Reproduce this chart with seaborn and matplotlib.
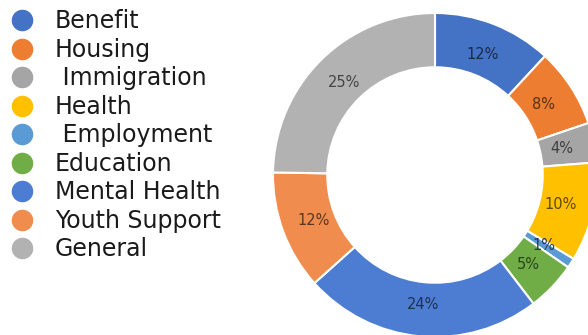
import matplotlib
matplotlib.use("Agg")
import matplotlib.pyplot as plt
from matplotlib.lines import Line2D
from matplotlib.colors import to_rgb
import seaborn as sns

# Share of enquiries by topic (percent)
categories = ["Benefit", "Housing", " Immigration", "Health", " Employment",
              "Education", "Mental Health", "Youth Support", "General"]
values = [12, 8, 4, 10, 1, 5, 24, 12, 25]
colors = ["#4472C4", "#ED7D31", "#A5A5A5", "#FFC000", "#5B9BD5",
          "#70AD47", "#4D7DD3", "#F08D4E", "#B2B2B2"]

sns.set_theme(style="white")
plt.rcParams["font.family"] = ["DejaVu Sans"]
palette = sns.color_palette(colors)

W, H = 588, 335
fig = plt.figure(figsize=(W / 100, H / 100), dpi=100)
fig.patch.set_facecolor("white")

# donut axes: centre and radius in pixels
cx, cy, r = 435, 175, 162
ax = fig.add_axes([(cx - r) / W, (H - cy - r) / H, 2 * r / W, 2 * r / H])

total = sum(values)
wedges, _, autotexts = ax.pie(
    values, colors=palette, startangle=90, counterclock=False, radius=1.0,
    autopct=lambda p: f"{p * total / 100:.0f}%", pctdistance=0.80,
    wedgeprops=dict(width=0.335, edgecolor="white", linewidth=1.5),
    textprops=dict(fontsize=10.5),
)
ax.set_xlim(-1, 1)
ax.set_ylim(-1, 1)
ax.axis("off")
for w in wedges:
    w.set_clip_on(False)
for t, c in zip(autotexts, palette):
    dark = tuple(v * 0.38 for v in to_rgb(c))
    t.set_color(dark)

handles = [Line2D([0], [0], marker="o", linestyle="none", markersize=14.5,
                  markerfacecolor=c, markeredgecolor=c) for c in palette]
fig.legend(handles, categories, loc="upper left", bbox_to_anchor=(-0.015, 1.021),
           frameon=False, fontsize=17, handletextpad=0.8, labelspacing=0.19,
           borderaxespad=0.3, handlelength=1.2, labelcolor="#1a1a1a")

fig.savefig("out.png", dpi=100)
